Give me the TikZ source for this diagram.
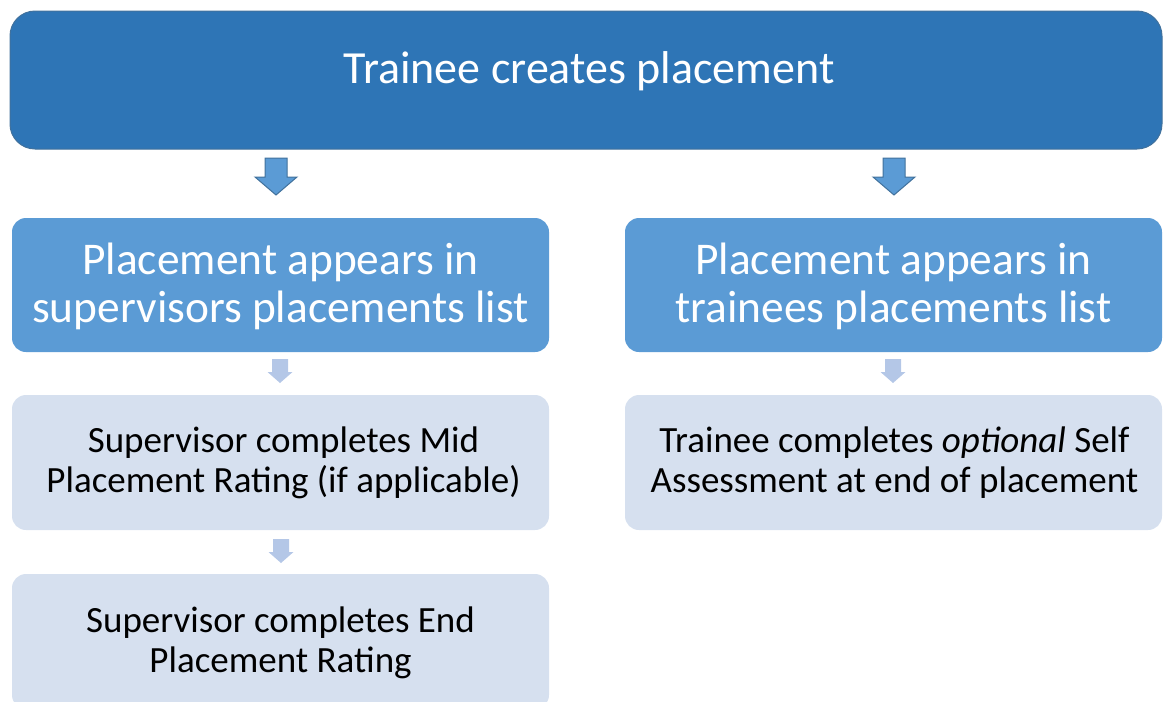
\documentclass[tikz,border=0pt]{standalone}
\usepackage{fontspec}
\setmainfont{Carlito}
\definecolor{topfill}{HTML}{2E75B6}
\definecolor{topline}{HTML}{41719C}
\definecolor{midfill}{HTML}{5B9BD5}
\definecolor{lowfill}{HTML}{D6E0EF}
\definecolor{smallarrow}{HTML}{B4C7E7}
\tikzset{
  topbox/.style={fill=topfill,draw=topline,line width=1pt,rounded corners=25pt,minimum width=1152pt,minimum height=138pt,inner sep=0pt},
  midbox/.style={fill=midfill,rounded corners=14pt,minimum width=537pt,minimum height=134pt,inner sep=0pt},
  lowbox/.style={fill=lowfill,rounded corners=14pt,minimum width=537pt,minimum height=135pt,inner sep=0pt},
  toptext/.style={text=white,font=\fontsize{46}{55}\selectfont,align=center,inner sep=0pt},
  midtext/.style={text=white,font=\fontsize{45.4}{48}\selectfont,align=center,inner sep=0pt},
  lowtext/.style={text=black,font=\fontsize{37}{40}\selectfont,align=center,inner sep=0pt},
  bigarrow/.style={fill=midfill,draw=topline,line width=1pt},
  littlearrow/.style={fill=smallarrow},
}
\begin{document}
\begin{tikzpicture}[x=1pt,y=-1pt]
\useasboundingbox (0,0) rectangle (1163,702);
\node[topbox] (top) at (586,80) {};
\node[toptext,anchor=base] (toptxt) at (589,83) {Trainee creates placement};
\node[midbox] (ml) at (280.5,285) {};
\node[midtext] (mltxt) at (280.5,286.5) {Placement appears in\\supervisors placements list};
\node[midbox] (mr) at (893.5,285) {};
\node[midtext] (mrtxt) at (893.5,286.5) {Placement appears in\\trainees placements list};
\node[lowbox] (ll) at (280.5,462.5) {};
\node[lowtext] (lltxt) at (283.5,463) {Supervisor completes Mid\\Placement Rating (if applicable)};
\node[lowbox] (lr) at (893.5,462.5) {};
\node[lowtext] (lrtxt) at (894.5,463) {Trainee completes \textit{optional} Self\\Assessment at end of placement};
\node[lowbox] (le) at (280.5,641.5) {};
\node[lowtext] (letxt) at (280.5,643) {Supervisor completes End\\Placement Rating};
% big arrows
\coordinate (a1) at (276,158);
\coordinate (a2) at (894,158);
\foreach \c in {a1,a2}{
  \draw[bigarrow] ([xshift=-11pt]\c) -- ([xshift=11pt]\c) -- ([xshift=11pt,yshift=-19pt]\c) -- ([xshift=21pt,yshift=-19pt]\c) -- ([yshift=-37pt]\c) -- ([xshift=-21pt,yshift=-19pt]\c) -- ([xshift=-11pt,yshift=-19pt]\c) -- cycle;
}
% small arrows
\coordinate (s1) at (280,359);
\coordinate (s2) at (893,359);
\coordinate (s3) at (281,539);
\foreach \c in {s1,s2,s3}{
  \fill[littlearrow] ([xshift=-8pt]\c) -- ([xshift=8pt]\c) -- ([xshift=8pt,yshift=-13pt]\c) -- ([xshift=12.5pt,yshift=-13pt]\c) -- ([yshift=-24pt]\c) -- ([xshift=-12.5pt,yshift=-13pt]\c) -- ([xshift=-8pt,yshift=-13pt]\c) -- cycle;
}
\end{tikzpicture}
\end{document}
